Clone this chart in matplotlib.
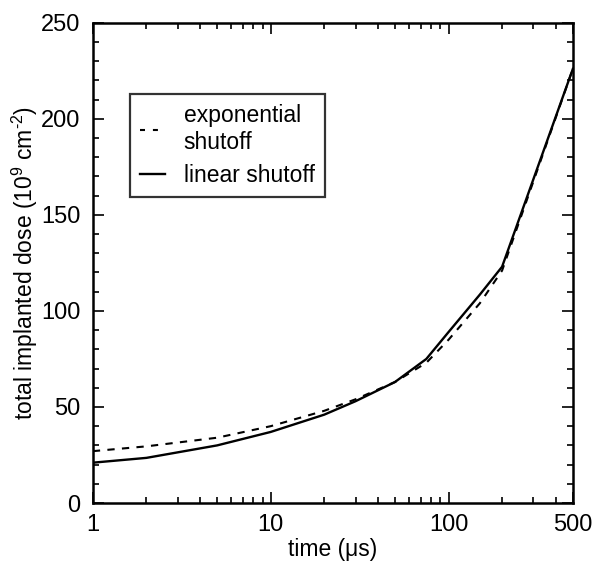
import numpy as np
import matplotlib
matplotlib.use("Agg")
import matplotlib.pyplot as plt
from matplotlib.ticker import FixedLocator, NullFormatter, MultipleLocator

plt.rcParams["font.family"] = ["Liberation Sans", "DejaVu Sans"]
plt.rcParams["mathtext.fontset"] = "custom"
plt.rcParams["mathtext.rm"] = "Liberation Sans"
plt.rcParams["mathtext.it"] = "Liberation Sans:italic"
plt.rcParams["mathtext.bf"] = "Liberation Sans:bold"

# values
timeExp = [1, 2, 5, 10, 20, 30, 50, 75, 100, 150, 200, 500]
doseExp = [27, 29.5, 34, 40, 48, 54, 63, 73, 85, 104, 121, 226]

timeLin = [1, 2, 5, 10, 20, 30, 50, 75, 100, 150, 200, 500]
doseLin = [21, 23.5, 30, 37, 46, 53, 63, 75, 89, 108.5, 123, 226]

xTicks = [1, 10, 100, 500]
xTickLabels = ["1", "10", "100", "500"]

fig = plt.figure(figsize=(6.03, 5.65), dpi=100)
ax = fig.add_axes([0.154, 0.1097, 0.796, 0.850])

ax.plot(timeExp, doseExp, color="black", lw=1.5, linestyle=(0, (3.5, 3.5)),
        label="exponential\nshutoff")
ax.plot(timeLin, doseLin, color="black", lw=1.7, label="linear shutoff")

ax.set_xscale("log")
ax.set_xlim(1, 500)
ax.set_ylim(0, 250)

ax.xaxis.set_major_locator(FixedLocator(xTicks))
ax.set_xticklabels(xTickLabels)
minorX = [m * d for d in (1, 10, 100) for m in range(2, 10) if m * d < 500]
ax.xaxis.set_minor_locator(FixedLocator(minorX))
ax.xaxis.set_minor_formatter(NullFormatter())
ax.yaxis.set_major_locator(MultipleLocator(50))
ax.yaxis.set_minor_locator(MultipleLocator(10))

ax.tick_params(which="both", direction="in", top=True, right=True, labelsize=17, width=1.2)
ax.tick_params(which="major", length=8)
ax.tick_params(which="minor", length=4)
ax.tick_params(axis="x", which="major", pad=8)
ax.tick_params(axis="y", which="major", pad=9)
for spine in ax.spines.values():
    spine.set_linewidth(1.8)

ax.set_xlabel("time (\u03bcs)", fontsize=16.5, labelpad=1)
ax.set_ylabel(r"total implanted dose (10$^{9}$ cm$^{\text{-2}}$)", fontsize=16.5, labelpad=0.5)

leg = ax.legend(loc="upper left", bbox_to_anchor=(0.077, 0.852), fontsize=16.5,
                frameon=True, fancybox=False, handlelength=1.1, handletextpad=0.8,
                borderpad=0.45, labelspacing=0.45, borderaxespad=0)
leg.get_frame().set_edgecolor("black")
leg.get_frame().set_linewidth(1.6)
leg.get_lines()[0].set_dashes([2.4, 3.8])

fig.savefig("out.png", dpi=100)
